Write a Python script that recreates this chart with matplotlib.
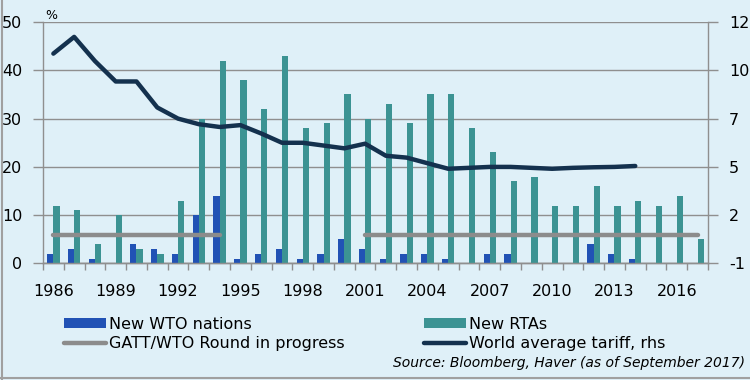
import numpy as np
import matplotlib
matplotlib.use("Agg")
import matplotlib.pyplot as plt
from matplotlib.lines import Line2D
from matplotlib.patches import Patch

years = list(range(1986, 2018))
new_wto = [2, 3, 1, 0, 4, 3, 2, 10, 14, 1, 2, 3, 1, 2, 5, 3,
           1, 2, 2, 1, 0, 2, 2, 0, 0, 0, 4, 2, 1, 0, 0, 0]
new_rtas = [12, 11, 4, 10, 3, 2, 13, 30, 42, 38, 32, 43, 28, 29, 35, 30,
            33, 29, 35, 35, 28, 23, 17, 18, 12, 12, 16, 12, 13, 12, 14, 5]
# GATT/WTO rounds: Uruguay 1986-1994, Doha 2001 onwards
round_level = [6] * 9 + [np.nan] * 6 + [6] * 17
tariff_years = list(range(1986, 2015))
tariff = [10.7, 11.6, 10.3, 9.2, 9.2, 7.8, 7.2, 6.9, 6.75, 6.85,
          6.4, 5.9, 5.9, 5.75, 5.6, 5.85, 5.2, 5.1, 4.8, 4.5,
          4.55, 4.6, 4.6, 4.55, 4.5, 4.55, 4.58, 4.6, 4.65]
xlabels = [str(y) for y in years[::3]]

bg = "#DFF0F8"
c_wto = "#2152B5"
c_rta = "#3C9393"
c_round = "#8C8C8C"
c_tariff = "#14314E"
grid_c = "#8F8F8F"

fig = plt.figure(figsize=(7.5, 3.8), dpi=100, facecolor=bg)
ax = fig.add_axes([0.0573, 0.3066, 0.8867, 0.6354], facecolor=bg)
ax2 = ax.twinx()

x = np.arange(len(years))
w = 0.3
ax.bar(x - w / 2, new_wto, width=w, color=c_wto, zorder=3)
ax.bar(x + w / 2, new_rtas, width=w, color=c_rta, zorder=3)
ax.plot(x, round_level, color=c_round, lw=3.2, solid_capstyle="round", zorder=4)

xt = np.array(tariff_years) - years[0]
ax2.plot(xt, tariff, color=c_tariff, lw=3.2, solid_capstyle="round", zorder=5)

ax.set_xlim(-0.5, len(years) - 0.5)
ax.set_ylim(0, 50)
ax.set_yticks(range(0, 51, 10))
ax.grid(axis="y", color=grid_c, lw=1.0, zorder=0)
ax.set_xticks(np.arange(-0.5, len(years), 1))
ax.set_xticklabels([])
ax.set_xticks(x[::3], minor=True)
ax.set_xticklabels(xlabels, minor=True)
ax.tick_params(axis="x", which="major", length=5, color=grid_c, width=1.0)
ax.tick_params(axis="x", which="minor", length=0, pad=15, labelsize=11.5)
ax.tick_params(axis="y", length=7, color=grid_c, width=1.0, pad=8, labelsize=11.5)

ax2.set_ylim(-0.6, 12.4)
ticks2 = np.linspace(-0.6, 12.4, 6)
ax2.set_yticks(ticks2)
ax2.set_yticklabels([f"{v:.0f}" for v in ticks2])
ax2.tick_params(axis="y", length=7, color=grid_c, width=1.0, pad=8, labelsize=11.5)

for a in (ax, ax2):
    for s in a.spines.values():
        s.set_visible(False)
    a.spines["left"].set_visible(a is ax)
    a.spines["right"].set_visible(a is ax2)
    a.spines["bottom"].set_visible(True)
    for s in ("left", "right", "bottom"):
        a.spines[s].set_color(grid_c)
        a.spines[s].set_linewidth(1.0)

ax.text(0.003, 1.0, "%", transform=ax.transAxes, fontsize=9, ha="left", va="bottom")

handles = [
    Patch(facecolor=c_wto, label="New WTO nations"),
    Line2D([], [], color=c_round, lw=3.2, solid_capstyle="round", label="GATT/WTO Round in progress"),
    Patch(facecolor=c_rta, label="New RTAs"),
    Line2D([], [], color=c_tariff, lw=3.2, solid_capstyle="round", label="World average tariff, rhs"),
]
fig.legend(handles=handles, ncol=2, loc="upper left", bbox_to_anchor=(0.075, 0.188),
           frameon=False, fontsize=11.5, handlelength=2.6, handleheight=0.55,
           handletextpad=0.2, columnspacing=5.0, labelspacing=0.3, borderpad=0)

fig.text(0.993, 0.045, "Source: Bloomberg, Haver (as of September 2017)",
         fontsize=10, style="italic", ha="right", va="center")

fig.add_artist(Line2D([0.002, 0.002], [0, 1], transform=fig.transFigure, color="#A0A0A0", lw=1.5))
fig.add_artist(Line2D([0, 1], [0.004, 0.004], transform=fig.transFigure, color="#A0A0A0", lw=1.5))

fig.savefig("out.png", dpi=100, facecolor=bg)
